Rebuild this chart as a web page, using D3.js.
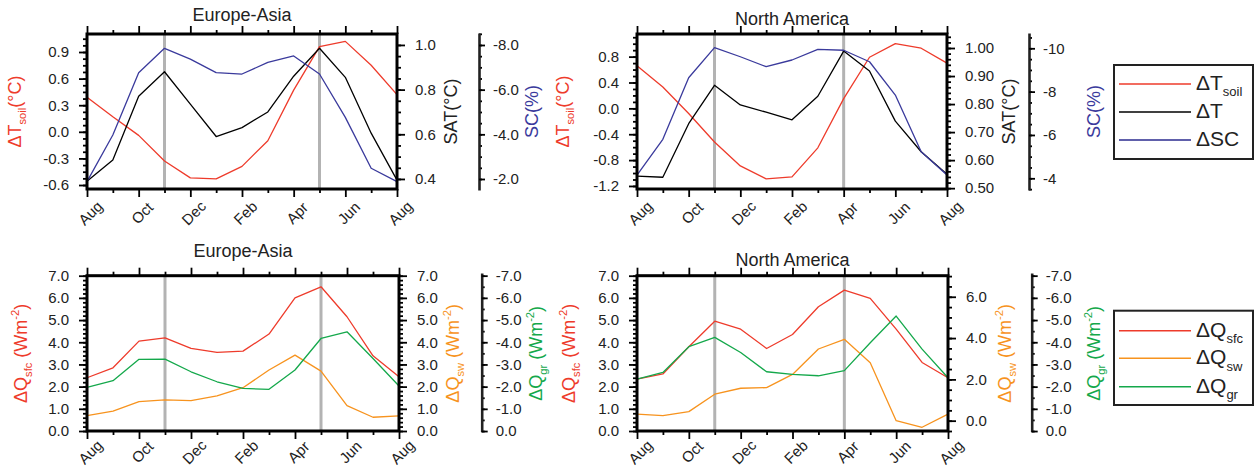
<!DOCTYPE html>
<html>
<head>
<meta charset="utf-8">
<script src="https://cdn.jsdelivr.net/npm/d3@7"></script>
<style>
  body { margin: 0; background: #fff; }
  svg { display: block; }
  text { font-family: 'Liberation Sans', Arial, Helvetica, sans-serif; }
</style>
</head>
<body>
<svg id="chart" width="1258" height="467"></svg>
<script>
// months along the x axis, Aug to Aug
const months = ["Aug", "Sep", "Oct", "Nov", "Dec", "Jan", "Feb", "Mar", "Apr", "May", "Jun", "Jul", "Aug"];
const xTickLabels = ["Aug", "Oct", "Dec", "Feb", "Apr", "Jun", "Aug"];
const eaMarkedMonths = [3, 9]; // Nov, May
const naMarkedMonths = [3, 8]; // Nov, Apr

// Europe-Asia, temperature / snow cover
const eaTsoil = [0.39, 0.17, -0.04, -0.33, -0.52, -0.53, -0.39, -0.10, 0.47, 0.96, 1.02, 0.75, 0.42];
const eaT = [0.39, 0.485, 0.77, 0.88, 0.735, 0.59, 0.63, 0.70, 0.86, 0.985, 0.855, 0.605, 0.395];
const eaSC = [-1.88, -3.97, -6.76, -7.85, -7.37, -6.76, -6.70, -7.22, -7.51, -6.70, -4.76, -2.48, -1.88];

// North America, temperature / snow cover
const naTsoil = [0.66, 0.33, -0.08, -0.52, -0.89, -1.09, -1.06, -0.61, 0.15, 0.79, 1.0, 0.93, 0.70];
const naT = [0.543, 0.539, 0.73, 0.867, 0.797, 0.771, 0.744, 0.828, 0.989, 0.918, 0.739, 0.63, 0.55];
const naSC = [-4.15, -5.8, -8.64, -10.03, -9.61, -9.15, -9.46, -9.95, -9.91, -9.38, -7.84, -5.23, -4.15];

// Europe-Asia, heat fluxes
const eaQsfc = [2.40, 2.85, 4.05, 4.20, 3.72, 3.54, 3.60, 4.37, 6.0, 6.5, 5.15, 3.39, 2.45];
const eaQsw = [0.69, 0.90, 1.32, 1.40, 1.37, 1.58, 1.95, 2.75, 3.42, 2.70, 1.14, 0.62, 0.68];
const eaQgr = [-1.97, -2.27, -3.23, -3.24, -2.67, -2.22, -1.92, -1.88, -2.75, -4.17, -4.47, -3.27, -2.03];

// North America, heat fluxes
const naQsfc = [2.34, 2.57, 3.80, 4.95, 4.59, 3.72, 4.35, 5.60, 6.35, 5.98, 4.59, 3.09, 2.40];
const naQsw = [0.32, 0.24, 0.44, 1.28, 1.57, 1.60, 2.24, 3.47, 3.94, 2.81, 0.0, -0.32, 0.32];
const naQgr = [-2.34, -2.64, -3.80, -4.22, -3.54, -2.67, -2.55, -2.49, -2.72, -3.98, -5.18, -3.69, -2.40];

// tick labels
const eaTsoilTicks = [-0.6, -0.3, 0.0, 0.3, 0.6, 0.9];
const eaSatTicks = [0.4, 0.6, 0.8, 1.0];
const eaScTicks = [-8, -6, -4, -2];
const naTsoilTicks = [-1.2, -0.8, -0.4, 0.0, 0.4, 0.8];
const naSatTicks = [0.5, 0.6, 0.7, 0.8, 0.9, 1.0];
const naScTicks = [-10, -8, -6, -4];
const qTicks = [0, 1, 2, 3, 4, 5, 6, 7];
const naQswTicks = [0, 2, 4, 6];
const qgrTicks = [0, -1, -2, -3, -4, -5, -6, -7];

const RED = "#ee3b2b", BLUE = "#3a3a9c", ORANGE = "#f7931e", GREEN = "#14a84b", GRAY = "#b3b3b3";

const svg = d3.select("#chart");
svg.append("rect").attr("width", 1258).attr("height", 467).attr("fill", "#fff");

const f1 = d => d.toFixed(1);
const f2 = d => d.toFixed(2);
const f0 = d => String(d);

// text with sub / superscript pieces
function richText(sel, parts, size) {
  let shift = 0;
  parts.forEach(([t, k]) => {
    const target = k === "sub" ? 0.3 * size : k === "sup" ? -0.42 * size : 0;
    sel.append("tspan")
      .attr("dy", target - shift)
      .attr("font-size", k ? size * 0.62 : size)
      .text(t);
    shift = target;
  });
}

function minorTicks(domain, step) {
  const [a, b] = d3.extent(domain);
  const out = [];
  for (let v = Math.ceil(a / step - 1e-6) * step; v <= b + 1e-6; v += step) out.push(v);
  return out;
}

function styleAxis(sel) {
  sel.attr("font-size", 15).attr("font-family", null);
  sel.selectAll("line").attr("stroke", "#000").attr("stroke-width", 1.8);
  sel.selectAll("text").attr("fill", "#222");
}

function yAxis(g, axisFn, scale, spec, x, keepDomain) {
  const minor = g.append("g").attr("transform", `translate(${x},0)`)
    .call(axisFn(scale).tickValues(minorTicks(scale.domain(), spec.minor)).tickSize(keepDomain ? 3 : 4).tickSizeOuter(0).tickFormat(""));
  minor.select(".domain").remove();
  styleAxis(minor);
  const major = g.append("g").attr("transform", `translate(${x},0)`)
    .call(axisFn(scale).tickValues(spec.ticks).tickSize(keepDomain ? 6 : 8).tickSizeOuter(0)
      .tickPadding(keepDomain ? 8 : 10).tickFormat(spec.fmt));
  if (keepDomain) major.select(".domain").attr("stroke", "#222").attr("stroke-width", 2.6);
  else major.select(".domain").remove();
  styleAxis(major);
}

function axisLabel(g, x, y, parts, color) {
  const t = g.append("text")
    .attr("transform", `translate(${x},${y}) rotate(-90)`)
    .attr("text-anchor", "middle")
    .attr("dy", "0.35em")
    .attr("fill", color);
  richText(t, parts, 18);
}

function drawPanel(p) {
  const g = svg.append("g");
  const x = d3.scaleLinear().domain([0, 12]).range([p.x0, p.x1]);
  const yL = d3.scaleLinear().domain(p.left.domain).range([p.y1, p.y0]);
  const yR = d3.scaleLinear().domain(p.right.domain).range([p.y1, p.y0]);
  const y3 = d3.scaleLinear().domain(p.third.domain).range(p.third.range);
  const scales = { left: yL, right: yR, third: y3 };

  // title
  g.append("text").attr("x", (p.x0 + p.x1) / 2).attr("y", p.titleY)
    .attr("text-anchor", "middle").attr("font-size", 18).attr("fill", "#222").text(p.title);

  // x ticks (bottom with labels, top without)
  const xMinor = d3.range(1, 12, 2), xMajor = d3.range(0, 13, 2);
  [[d3.axisBottom, p.y1], [d3.axisTop, p.y0]].forEach(([fn, yy], k) => {
    const mi = g.append("g").attr("transform", `translate(0,${yy})`)
      .call(fn(x).tickValues(xMinor).tickSize(4).tickSizeOuter(0).tickFormat(""));
    mi.select(".domain").remove();
    styleAxis(mi);
    const ma = g.append("g").attr("transform", `translate(0,${yy})`)
      .call(fn(x).tickValues(xMajor).tickSize(8).tickSizeOuter(0)
        .tickFormat(k === 0 ? (d, i) => xTickLabels[i] : ""));
    ma.select(".domain").remove();
    styleAxis(ma);
    if (k === 0) {
      ma.selectAll("text")
        .attr("y", null).attr("dy", "0.35em")
        .attr("text-anchor", "middle")
        .attr("transform", `translate(3,${p.xLabelDy}) rotate(-45)`);
    }
  });

  yAxis(g, d3.axisLeft, yL, p.left, p.x0, false);
  yAxis(g, d3.axisRight, yR, p.right, p.x1, false);
  yAxis(g, d3.axisRight, y3, p.third, p.third.x, true);

  axisLabel(g, p.left.lx, (p.y0 + p.y1) / 2, p.left.label, p.left.color);
  axisLabel(g, p.right.lx, (p.y0 + p.y1) / 2, p.right.label, p.right.color);
  axisLabel(g, p.third.lx, (p.y0 + p.y1) / 2, p.third.label, p.third.color);

  // marker months
  g.selectAll(".mark").data(p.marked).join("line")
    .attr("x1", d => x(d)).attr("x2", d => x(d))
    .attr("y1", p.y0).attr("y2", p.y1)
    .attr("stroke", GRAY).attr("stroke-width", 3);

  // series
  p.series.forEach(s => {
    const line = d3.line().x((d, i) => x(i)).y(d => scales[s.axis](d));
    g.append("path").datum(s.values)
      .attr("d", line).attr("fill", "none")
      .attr("stroke", s.color).attr("stroke-width", 1.3)
      .attr("stroke-linejoin", "round");
  });

  // frame
  g.append("rect").attr("x", p.x0).attr("y", p.y0)
    .attr("width", p.x1 - p.x0).attr("height", p.y1 - p.y0)
    .attr("fill", "none").attr("stroke", "#000").attr("stroke-width", 3);
}

const tsoilLabel = [["ΔT"], ["soil", "sub"], ["(°C)"]];
const qLabel = (sub) => [["ΔQ"], [sub, "sub"], [" (Wm"], ["-2", "sup"], [")"]];

const panels = [
  {
    title: "Europe-Asia", titleY: 21, x0: 87, x1: 397, y0: 34, y1: 189, xLabelDy: 24, marked: eaMarkedMonths,
    left: { domain: [-0.645, 1.103], ticks: eaTsoilTicks, minor: 0.075, fmt: f1, label: tsoilLabel, color: RED, lx: 21 },
    right: { domain: [0.355, 1.049], ticks: eaSatTicks, minor: 0.05, fmt: f1, label: [["SAT(°C)"]], color: "#222", lx: 457 },
    third: { x: 479, range: [190, 33], domain: [-1.507, -8.537], ticks: eaScTicks, minor: 0.5, fmt: f1, label: [["SC(%)"]], color: BLUE, lx: 538 },
    series: [
      { values: eaTsoil, axis: "left", color: RED },
      { values: eaT, axis: "right", color: "#000" },
      { values: eaSC, axis: "third", color: BLUE }
    ]
  },
  {
    title: "North America", titleY: 25, x0: 637, x1: 947, y0: 34, y1: 189, xLabelDy: 24, marked: naMarkedMonths,
    left: { domain: [-1.247, 1.15], ticks: naTsoilTicks, minor: 0.1, fmt: f1, label: tsoilLabel, color: RED, lx: 569 },
    right: { domain: [0.497, 1.05], ticks: naSatTicks, minor: 0.02, fmt: f2, label: [["SAT(°C)"]], color: "#222", lx: 1015 },
    third: { x: 1029, range: [190, 33], domain: [-3.46, -10.706], ticks: naScTicks, minor: 0.5, fmt: f0, label: [["SC(%)"]], color: BLUE, lx: 1100 },
    series: [
      { values: naTsoil, axis: "left", color: RED },
      { values: naT, axis: "right", color: "#000" },
      { values: naSC, axis: "third", color: BLUE }
    ]
  },
  {
    title: "Europe-Asia", titleY: 257, x0: 87, x1: 399, y0: 275.7, y1: 431, xLabelDy: 21, marked: eaMarkedMonths,
    left: { domain: [0, 7], ticks: qTicks, minor: 0.2, fmt: f1, label: qLabel("sfc"), color: RED, lx: 27 },
    right: { domain: [0, 7], ticks: qTicks, minor: 0.2, fmt: f1, label: qLabel("sw"), color: ORANGE, lx: 459 },
    third: { x: 481.7, range: [431.7, 273], domain: [0.03, -7.12], ticks: qgrTicks, minor: 0.5, fmt: f1, label: qLabel("gr"), color: GREEN, lx: 542 },
    series: [
      { values: eaQsfc, axis: "left", color: RED },
      { values: eaQsw, axis: "right", color: ORANGE },
      { values: eaQgr, axis: "third", color: GREEN }
    ]
  },
  {
    title: "North America", titleY: 266, x0: 637, x1: 948, y0: 275.7, y1: 431, xLabelDy: 21, marked: naMarkedMonths,
    left: { domain: [0, 7], ticks: qTicks, minor: 0.2, fmt: f1, label: qLabel("sfc"), color: RED, lx: 575 },
    right: { domain: [-0.5, 7.02], ticks: naQswTicks, minor: 0.5, fmt: f1, label: qLabel("sw"), color: ORANGE, lx: 1011 },
    third: { x: 1031.7, range: [431.7, 273], domain: [0.03, -7.12], ticks: qgrTicks, minor: 0.5, fmt: f1, label: qLabel("gr"), color: GREEN, lx: 1100 },
    series: [
      { values: naQsfc, axis: "left", color: RED },
      { values: naQsw, axis: "right", color: ORANGE },
      { values: naQgr, axis: "third", color: GREEN }
    ]
  }
];

panels.forEach(drawPanel);

// legends
const legendTop = [
  { parts: [["ΔT"], ["soil", "sub"]], color: RED },
  { parts: [["ΔT"]], color: "#000" },
  { parts: [["ΔSC"]], color: "#2b2b8f" }
];
const legendBottom = [
  { parts: [["ΔQ"], ["sfc", "sub"]], color: RED },
  { parts: [["ΔQ"], ["sw", "sub"]], color: ORANGE },
  { parts: [["ΔQ"], ["gr", "sub"]], color: GREEN }
];

function drawLegend(entries, box, rows) {
  const g = svg.append("g");
  g.append("rect").attr("x", box[0]).attr("y", box[1])
    .attr("width", box[2]).attr("height", box[3])
    .attr("fill", "#fff").attr("stroke", "#222").attr("stroke-width", 2);
  entries.forEach((e, i) => {
    const y = rows[i];
    g.append("line").attr("x1", box[0] + 5).attr("x2", box[0] + 77)
      .attr("y1", y).attr("y2", y).attr("stroke", e.color).attr("stroke-width", 1.4);
    const t = g.append("text").attr("x", box[0] + 82).attr("y", y + 6).attr("fill", "#222");
    richText(t, e.parts, 21);
  });
}

drawLegend(legendTop, [1114, 65, 139, 94], [84, 112, 140]);
drawLegend(legendBottom, [1114, 310.7, 139, 94.3], [330.7, 358.3, 386.7]);
</script>
</body>
</html>
